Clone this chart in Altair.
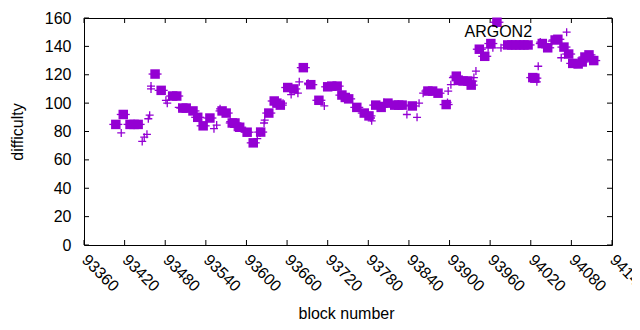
import altair as alt
import pandas as pd

# ---- data ----
sq_block = [93407, 93418, 93428, 93434, 93440, 93465, 93474, 93491, 93497, 93506,
            93511, 93521, 93528, 93536, 93546, 93564, 93570, 93579, 93583, 93590,
            93601, 93610, 93621, 93633, 93641, 93645, 93650, 93661, 93670, 93684,
            93695, 93707, 93720, 93726, 93734, 93741, 93746, 93751, 93763, 93774,
            93781, 93791, 93799, 93809, 93819, 93825, 93830, 93845, 93868, 93875,
            93883, 93895, 93910, 93913, 93920, 93927, 93932, 93944, 93952, 93961,
            93970, 93986, 93992, 93998, 94004, 94010, 94016, 94023, 94026, 94037,
            94045, 94056, 94060, 94069, 94076, 94082, 94090, 94096, 94100, 94106,
            94113]
sq_diff = [85, 92, 85, 85, 85, 120.5, 109, 105, 105, 96.5,
           96.5, 94.5, 90, 84, 89.5, 94.5, 93, 86, 86, 83,
           79.5, 72, 79.6, 93, 101.5, 100, 98.6, 111, 110, 125,
           113, 102, 111.5, 112, 112, 105.7, 104, 103, 97, 93,
           91, 98.6, 97, 100, 98.6, 98.6, 98.6, 98, 108.5, 108.5,
           107, 99, 119, 116, 115.6, 115.6, 112.7, 138, 133, 142,
           157, 141, 141, 141, 141, 141, 141, 118, 117.6, 142,
           139, 144.5, 145, 139.5, 134.6, 128, 127.6, 129, 132.5, 134,
           130]

plus_block = [93415, 93446, 93449, 93453, 93455, 93457, 93459, 93459, 93481, 93483,
              93500, 93527, 93552, 93556, 93561, 93576, 93582, 93616, 93620, 93626,
              93627, 93654, 93666, 93676, 93678, 93691, 93715, 93784, 93785, 93803,
              93837, 93852, 93855, 93861, 93897, 93898, 93902, 93905, 93935, 93936,
              93939, 93957, 93964, 93976, 94029, 94031, 94034, 94051, 94065, 94073,
              94112]
plus_diff = [79, 73, 76, 78, 89, 91.5, 110, 112, 102, 100,
             97, 90, 82, 84.5, 96, 87, 83, 75, 79, 86,
             88, 100, 106, 107, 115, 114, 98, 89.5, 87.5, 100.5,
             92, 90, 100, 107, 100.5, 108.5, 113, 118, 115.5, 118,
             122.6, 139, 139, 139, 115, 126, 143, 143.7, 132, 150,
             132]

x_ticks = list(range(93360, 94141, 60))
y_ticks = list(range(0, 161, 20))

label_text = ["ARGON2"]
label_block = [93972]
label_diff = [146.5]

# ---- chart ----
PURPLE = "#9400D3"
FONT = "Liberation Sans"
W, H = 528, 227

sq_df = pd.DataFrame({"block": sq_block, "difficulty": sq_diff})
plus_df = pd.DataFrame({"block": plus_block, "difficulty": plus_diff})
xt_df = pd.DataFrame({"block": x_ticks})
yt_df = pd.DataFrame({"difficulty": y_ticks})
lab_df = pd.DataFrame({"block": label_block, "difficulty": label_diff, "t": label_text})

xscale = alt.Scale(domain=[93360, 94140], nice=False, zero=False)
yscale = alt.Scale(domain=[0, 160], nice=False, zero=True)

xaxis = alt.Axis(values=x_ticks, format="d", labelAngle=45, labelAlign="left",
                 labelBaseline="middle",
                 labelPadding=12, tickSize=0, ticks=False, domain=False, grid=False,
                 labelFont=FONT, labelFontSize=16, labelColor="black",
                 labelOverlap=False, labelFlush=False, labelBound=False,
                 title="block number", titleFont=FONT, titleFontSize=16,
                 titleFontWeight="normal", titleColor="black",
                 titleX=W / 2 - 2, titleY=73, titleBaseline="alphabetic", titleAlign="center")
yaxis = alt.Axis(values=y_ticks, format="d", labelPadding=13, tickSize=0, ticks=False,
                 domain=False,
                 grid=False, labelFont=FONT, labelFontSize=16, labelColor="black",
                 labelOverlap=False, labelFlush=False, labelBound=False,
                 title="difficulty", titleFont=FONT, titleFontSize=16,
                 titleFontWeight="normal", titleColor="black", titleAngle=270,
                 titleX=-67, titleY=H / 2, titleBaseline="middle", titleAlign="center")

X = alt.X("block:Q", scale=xscale, axis=xaxis)
Y = alt.Y("difficulty:Q", scale=yscale, axis=yaxis)

TL = 5
xt_bottom = alt.Chart(xt_df).mark_rule(color="black", strokeWidth=1).encode(
    x=X, y=alt.value(H), y2=alt.value(H - TL))
xt_top = alt.Chart(xt_df).mark_rule(color="black", strokeWidth=1).encode(
    x=X, y=alt.value(0), y2=alt.value(TL))
yt_left = alt.Chart(yt_df).mark_rule(color="black", strokeWidth=1).encode(
    y=Y, x=alt.value(0), x2=alt.value(TL))
yt_right = alt.Chart(yt_df).mark_rule(color="black", strokeWidth=1).encode(
    y=Y, x=alt.value(W), x2=alt.value(W - TL))

plus = alt.Chart(plus_df).mark_point(
    shape="M-1,0L1,0M0,-1L0,1", filled=False, color=PURPLE, strokeWidth=1.3,
    size=64, opacity=1).encode(x=X, y=Y)
bars = alt.Chart(sq_df).mark_tick(orient="horizontal", color=PURPLE, size=13,
                                  thickness=1.3, opacity=1).encode(x=X, y=Y)
squares = alt.Chart(sq_df).mark_square(color=PURPLE, size=90, opacity=1,
                                       filled=True).encode(x=X, y=Y)
label = alt.Chart(lab_df).mark_text(font=FONT, fontSize=16, color="black",
                                    align="center", baseline="alphabetic").encode(
    x=X, y=Y, text="t:N")

chart = alt.layer(xt_bottom, xt_top, yt_left, yt_right, plus, bars, squares, label).properties(
    width=W, height=H,
    autosize=alt.AutoSizeParams(type="none"),
    padding={"left": 76, "top": 10, "right": 20, "bottom": 76},
    background="white",
).configure_view(stroke="black", strokeWidth=1)

chart.save("out.html", embed_options={"renderer": "svg", "actions": False})
